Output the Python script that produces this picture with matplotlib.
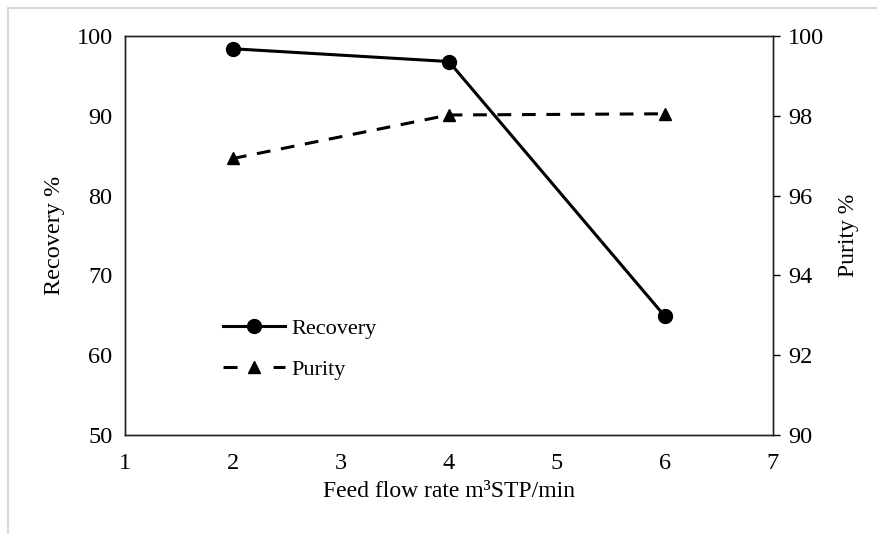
import matplotlib
matplotlib.use("Agg")
import matplotlib.pyplot as plt
from matplotlib.lines import Line2D

plt.rcParams['font.family'] = ['Liberation Serif', 'DejaVu Serif']

flow = [2, 4, 6]
recovery = [98.4, 96.8, 64.9]
purity = [96.93, 98.02, 98.05]
x_ticks = [1, 2, 3, 4, 5, 6, 7]
left_ticks = [50, 60, 70, 80, 90, 100]
right_ticks = [90, 92, 94, 96, 98, 100]

fig = plt.figure(figsize=(8.78, 5.34), dpi=100)
ax = fig.add_axes([0.1424, 0.1854, 0.880 - 0.1424, 0.9326 - 0.1854])
ax2 = ax.twinx()

ax.plot(flow, recovery, color='black', lw=2.2, marker='o', markersize=10,
        label='Recovery', zorder=3)
ax2.plot(flow, purity, color='black', lw=2.2, marker='^', markersize=9,
         dashes=(4.5, 3.5), label='Purity', zorder=3)

ax.set_xlim(1, 7)
ax.set_ylim(50, 100)
ax2.set_ylim(90, 100)
ax.set_xticks(x_ticks)
ax.set_yticks(left_ticks)
ax2.set_yticks(right_ticks)

tfs = 17.5
lfs = 17
ax.tick_params(axis='x', length=0, pad=13, labelsize=tfs)
ax.tick_params(axis='y', length=0, pad=9, labelsize=tfs)
ax2.tick_params(axis='y', length=5, width=1, direction='out', pad=6, labelsize=tfs)

for a in (ax, ax2):
    for s in a.spines.values():
        s.set_color('#222222')
        s.set_linewidth(1.0)

ax.set_xlabel('Feed flow rate m³STP/min', fontsize=lfs, labelpad=5)
ax.set_ylabel('Recovery %', fontsize=17.5, labelpad=8)
ax2.set_ylabel('Purity %', fontsize=lfs, labelpad=10)

handles = [Line2D([], [], color='black', lw=2.2, marker='o', markersize=10),
           Line2D([], [], color='black', lw=2.2, marker='^', markersize=9, dashes=(4.6, 11.8))]
leg = ax.legend(handles, ['Recovery', 'Purity'], loc='upper left',
                bbox_to_anchor=(0.12, 0.343), frameon=False, fontsize=16,
                handlelength=2.8, handletextpad=0.3, labelspacing=0.93)

# outer frame lines (light gray)
fig.add_artist(Line2D([8/878, 8/878], [0, 1 - 8/534], color='#d9d9d9', lw=1.5,
                      transform=fig.transFigure))
fig.add_artist(Line2D([8/878, 1], [1 - 8/534, 1 - 8/534], color='#d9d9d9', lw=1.5,
                      transform=fig.transFigure))

fig.savefig('out.png', dpi=100)
